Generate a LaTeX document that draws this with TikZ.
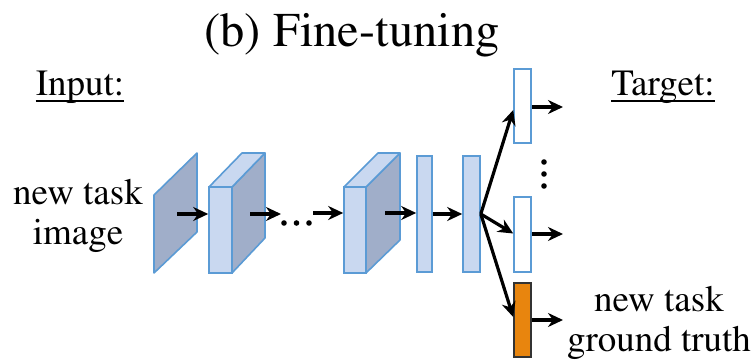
\documentclass[tikz,border=0pt]{standalone}
\usepackage[T1]{fontenc}
\renewcommand{\rmdefault}{ptm}
\usetikzlibrary{arrows.meta}
\definecolor{edgeblue}{HTML}{5B9BD5}
\definecolor{lightblue}{HTML}{C9D8F0}
\definecolor{slabgrey}{HTML}{A0AEC9}
\definecolor{taskorange}{HTML}{E8850E}
\definecolor{darkedge}{HTML}{333333}

\begin{document}
\begin{tikzpicture}[x=1pt,y=-1pt,
  arr/.style={-{Stealth[length=15pt,width=14pt]}, line width=3.2pt},
  face/.style={draw=edgeblue, line width=1.6pt, line join=round},
  txt/.style={font=\fontsize{37}{40}\selectfont, inner sep=0pt},
  layer/.style={draw=edgeblue, fill=lightblue, line width=1.6pt, inner sep=0pt},
  outbox/.style={draw=edgeblue, fill=white, line width=1.6pt, inner sep=0pt,
                 minimum width=17pt, minimum height=74pt},
  dot/.style={fill=black, draw=none}
  ]
\useasboundingbox (0,0) rectangle (756,363);

% titles
\node[txt, anchor=base, font=\fontsize{48.5}{50}\selectfont] (title) at (352,47) {(b) Fine-tuning};
\node[txt, anchor=base] (inp) at (80,96) {Input:};
\draw[line width=2pt] ([yshift=-5pt]inp.base west) -- ([yshift=-5pt]inp.base east);
\node[txt, anchor=base] (tgt) at (663,96) {Target:};
\draw[line width=2pt] ([yshift=-5pt]tgt.base west) -- ([yshift=-5pt]tgt.base east);

% side labels (base anchor sits on the last line)
\node[txt, anchor=base, align=center] (newimg) at (78,245) {new task\\image};
\node[txt, anchor=base, align=center] (newgt) at (659,352) {new task\\ground truth};

% input image slab
\draw[face, fill=slabgrey] (154,195) -- (197,153) -- (197,232) -- (154,273) -- cycle;
\coordinate (s1) at (177,214);

% first convolutional block
\draw[face, fill=slabgrey] (232,187) -- (265,153) -- (265,238) -- (232,273) -- cycle;
\draw[face, fill=lightblue] (209,187) -- (242,153) -- (265,153) -- (232,187) -- cycle;
\node[layer, minimum width=23pt, minimum height=86pt] (b2) at (220.5,230) {};
\coordinate (s2) at (250,214);
\coordinate (e2) at (281,214);

% ellipsis between blocks
\fill[dot] (284,223) circle (2.8);
\fill[dot] (296.5,223) circle (2.8);
\fill[dot] (309,223) circle (2.8);
\coordinate (s3) at (313,213);

% last convolutional block
\draw[face, fill=slabgrey] (366,187) -- (400,153) -- (400,240) -- (366,273) -- cycle;
\draw[face, fill=lightblue] (344,187) -- (378,153) -- (400,153) -- (366,187) -- cycle;
\node[layer, minimum width=22pt, minimum height=86pt] (b3) at (355,230) {};
\coordinate (s4) at (385,213);

% fully connected layers
\node[layer, minimum width=15pt, minimum height=116pt] (fc1) at (424.5,214) {};
\node[layer, minimum width=17pt, minimum height=116pt] (fc2) at (471.5,214) {};

% output heads
\node[outbox] (outA) at (522.5,106) {};
\node[outbox, minimum height=75pt] (outB) at (522.5,234.5) {};
\node[outbox, fill=taskorange, draw=darkedge] (outC) at (522.5,320) {};
\fill[dot] (544,162) circle (2.8);
\fill[dot] (544,174) circle (2.8);
\fill[dot] (544,186) circle (2.8);
\coordinate (tA) at (563,107);
\coordinate (tB) at (563,234);
\coordinate (tC) at (563,320);

% connections
\draw[arr] (s1) -- (s1 -| b2.west);
\draw[arr] (s2) -- (e2);
\draw[arr] (s3) -- (s3 -| b3.west);
\draw[arr] (s4) -- (s4 -| fc1.west);
\draw[arr] (fc1.east) -- (fc2.west);
\draw[arr] (fc2.east) -- ([yshift=-4pt]outA.west);
\draw[arr] (fc2.east) -- ([yshift=1pt]outB.west);
\draw[arr] (fc2.east) -- ([yshift=3pt]outC.west);
\draw[arr] (outA.east |- tA) -- (tA);
\draw[arr] (outB.east |- tB) -- (tB);
\draw[arr] (outC.east) -- (tC);
\end{tikzpicture}
\end{document}
